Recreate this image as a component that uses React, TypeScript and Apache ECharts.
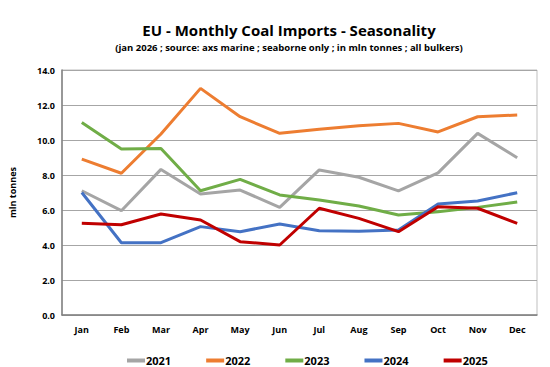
import React, { useEffect, useRef } from "react";
import * as echarts from "echarts";

const months = ["Jan", "Feb", "Mar", "Apr", "May", "Jun", "Jul", "Aug", "Sep", "Oct", "Nov", "Dec"];
const y2021 = [7.1, 5.96, 8.32, 6.91, 7.14, 6.15, 8.29, 7.87, 7.09, 8.12, 10.38, 8.99];
const y2022 = [8.91, 8.1, 10.34, 12.95, 11.33, 10.38, 10.61, 10.82, 10.95, 10.46, 11.33, 11.43];
const y2023 = [11.0, 9.49, 9.52, 7.1, 7.75, 6.86, 6.57, 6.23, 5.71, 5.9, 6.15, 6.46];
const y2024 = [7.0, 4.13, 4.13, 5.05, 4.76, 5.2, 4.82, 4.78, 4.86, 6.34, 6.51, 6.99];
const y2025 = [5.24, 5.16, 5.77, 5.43, 4.19, 4.0, 6.1, 5.52, 4.76, 6.19, 6.1, 5.24];

const seriesNames = ["2021", "2022", "2023", "2024", "2025"];
const seriesData = [y2021, y2022, y2023, y2024, y2025];
const colors = ["#A5A5A5", "#ED7D31", "#70AD47", "#4472C4", "#C00000"];

const FONT = "'Open Sans', 'Liberation Sans', sans-serif";

export default function App() {
  const ref = useRef<HTMLDivElement>(null);
  useEffect(() => {
    document.body.style.margin = "0";
    const chart = echarts.init(ref.current!, null, { renderer: "svg" });
    chart.setOption({
      animation: false,
      backgroundColor: "#ffffff",
      color: colors,
      title: {
        text: "EU - Monthly Coal Imports - Seasonality",
        subtext: "(jan 2026 ; source: axs marine ; seaborne only ; in mln tonnes ; all bulkers)",
        left: 284,
        textAlign: "center",
        top: 17,
        itemGap: 5,
        textStyle: { fontFamily: FONT, fontSize: 15, fontWeight: "bold", color: "#000" },
        subtextStyle: { fontFamily: FONT, fontSize: 9.5, fontWeight: "bold", color: "#000" },
      },
      legend: {
        data: seriesNames,
        top: 350,
        left: 122,
        icon: "rect",
        itemWidth: 18,
        itemHeight: 4,
        itemGap: 35,
        textStyle: { fontFamily: FONT, fontSize: 11, fontWeight: "bold", color: "#000", padding: [0, 0, 0, -4] },
      },
      grid: {
        left: 62,
        right: 13,
        top: 70,
        bottom: 52,
        show: true,
        borderColor: "#bfbfbf",
        borderWidth: 1,
      },
      xAxis: {
        type: "category",
        data: months,
        boundaryGap: true,
        axisLine: { lineStyle: { color: "#808080", width: 1.5 } },
        axisTick: { show: false },
        axisLabel: { fontFamily: FONT, fontSize: 9, fontWeight: "bold", color: "#000", margin: 10 },
      },
      yAxis: {
        type: "value",
        min: 0,
        max: 14,
        interval: 2,
        name: "mln tonnes",
        nameLocation: "middle",
        nameGap: 45,
        nameTextStyle: { fontFamily: FONT, fontSize: 9, fontWeight: "bold", color: "#000" },
        axisLine: { show: true, lineStyle: { color: "#808080", width: 1.5 } },
        axisTick: { show: false },
        axisLabel: {
          fontFamily: FONT,
          fontSize: 9,
          fontWeight: "bold",
          color: "#000",
          margin: 7,
          formatter: (v: number) => v.toFixed(1),
        },
        splitLine: { lineStyle: { color: "#a6a6a6", width: 1 } },
      },
      series: seriesNames.map((n, i) => ({
        name: n,
        type: "line",
        data: seriesData[i],
        symbol: "none",
        lineStyle: { width: 3, color: colors[i] },
        itemStyle: { color: colors[i] },
        z: 2 + i,
      })),
    });
    return () => chart.dispose();
  }, []);
  return <div ref={ref} style={{ position: "absolute", left: 0, top: 0, width: 550, height: 367 }} />;
}
